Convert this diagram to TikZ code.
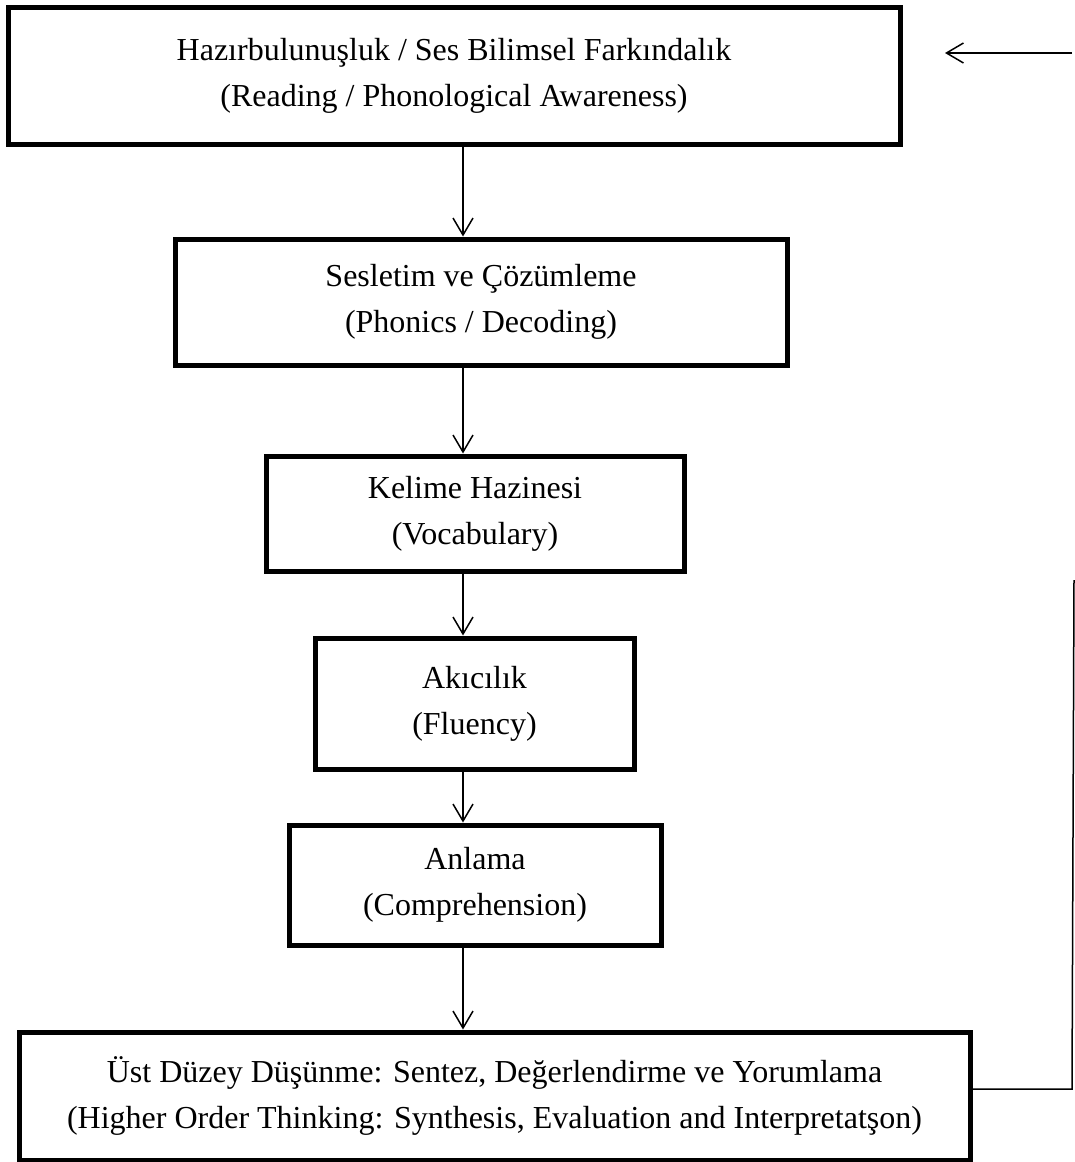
\documentclass[tikz,border=0pt]{standalone}
\usepackage{fontspec}
\setmainfont{Liberation Serif}
\usetikzlibrary{arrows.meta}

\begin{document}
\begin{tikzpicture}[x=1pt, y=-1pt]
\tikzset{kutu/.style={draw, line width=5pt, inner sep=0pt, align=center, font=\fontsize{32}{46}\selectfont}}
\tikzset{ok/.style={line width=1.5pt, -{Straight Barb[length=17pt, width=20pt]}}}
\useasboundingbox (0, 0) rectangle (1075, 1162);
\node[kutu, minimum width=892pt, minimum height=137pt] (K1) at (454, 75.5) {Haz\i rbulunu\c{s}luk / Ses Bilimsel Fark\i ndal\i k\\(Reading / Phonological Awareness)};
\node[kutu, minimum width=612pt, minimum height=126pt] (K2) at (481, 302) {Sesletim ve Çözümleme\\(Phonics / Decoding)};
\node[kutu, minimum width=418pt, minimum height=115pt] (K3) at (475, 513.5) {Kelime Hazinesi\\(Vocabulary)};
\node[kutu, minimum width=319pt, minimum height=131pt] (K4) at (474.5, 703.5) {Akıcılık\\(Fluency)};
\node[kutu, minimum width=372pt, minimum height=120pt] (K5) at (475, 885) {Anlama\\(Comprehension)};
\node[kutu, minimum width=951pt, minimum height=128pt] (K6) at (494.5, 1096) {Üst Düzey Düşünme: Sentez, Değerlendirme ve Yorumlama\\(Higher Order Thinking: Synthesis, Evaluation and Interpretatşon)};
\coordinate (eksen) at (463, 0);
\coordinate (G1) at (1072, 1089);
\coordinate (G2) at (1074, 580);
\coordinate (G3) at (1072, 53);
\coordinate (G4) at (945, 53);
\draw[ok] (K1.south -| eksen) -- (K2.north -| eksen);
\draw[ok] (K2.south -| eksen) -- (K3.north -| eksen);
\draw[ok] (K3.south -| eksen) -- (K4.north -| eksen);
\draw[ok] (K4.south -| eksen) -- (K5.north -| eksen);
\draw[ok] (K5.south -| eksen) -- (K6.north -| eksen);
\draw[line width=1.5pt] (K6.east |- G1) -- (G1) -- (G2);
\draw[ok] (G3) -- (G4);
\end{tikzpicture}
\end{document}
